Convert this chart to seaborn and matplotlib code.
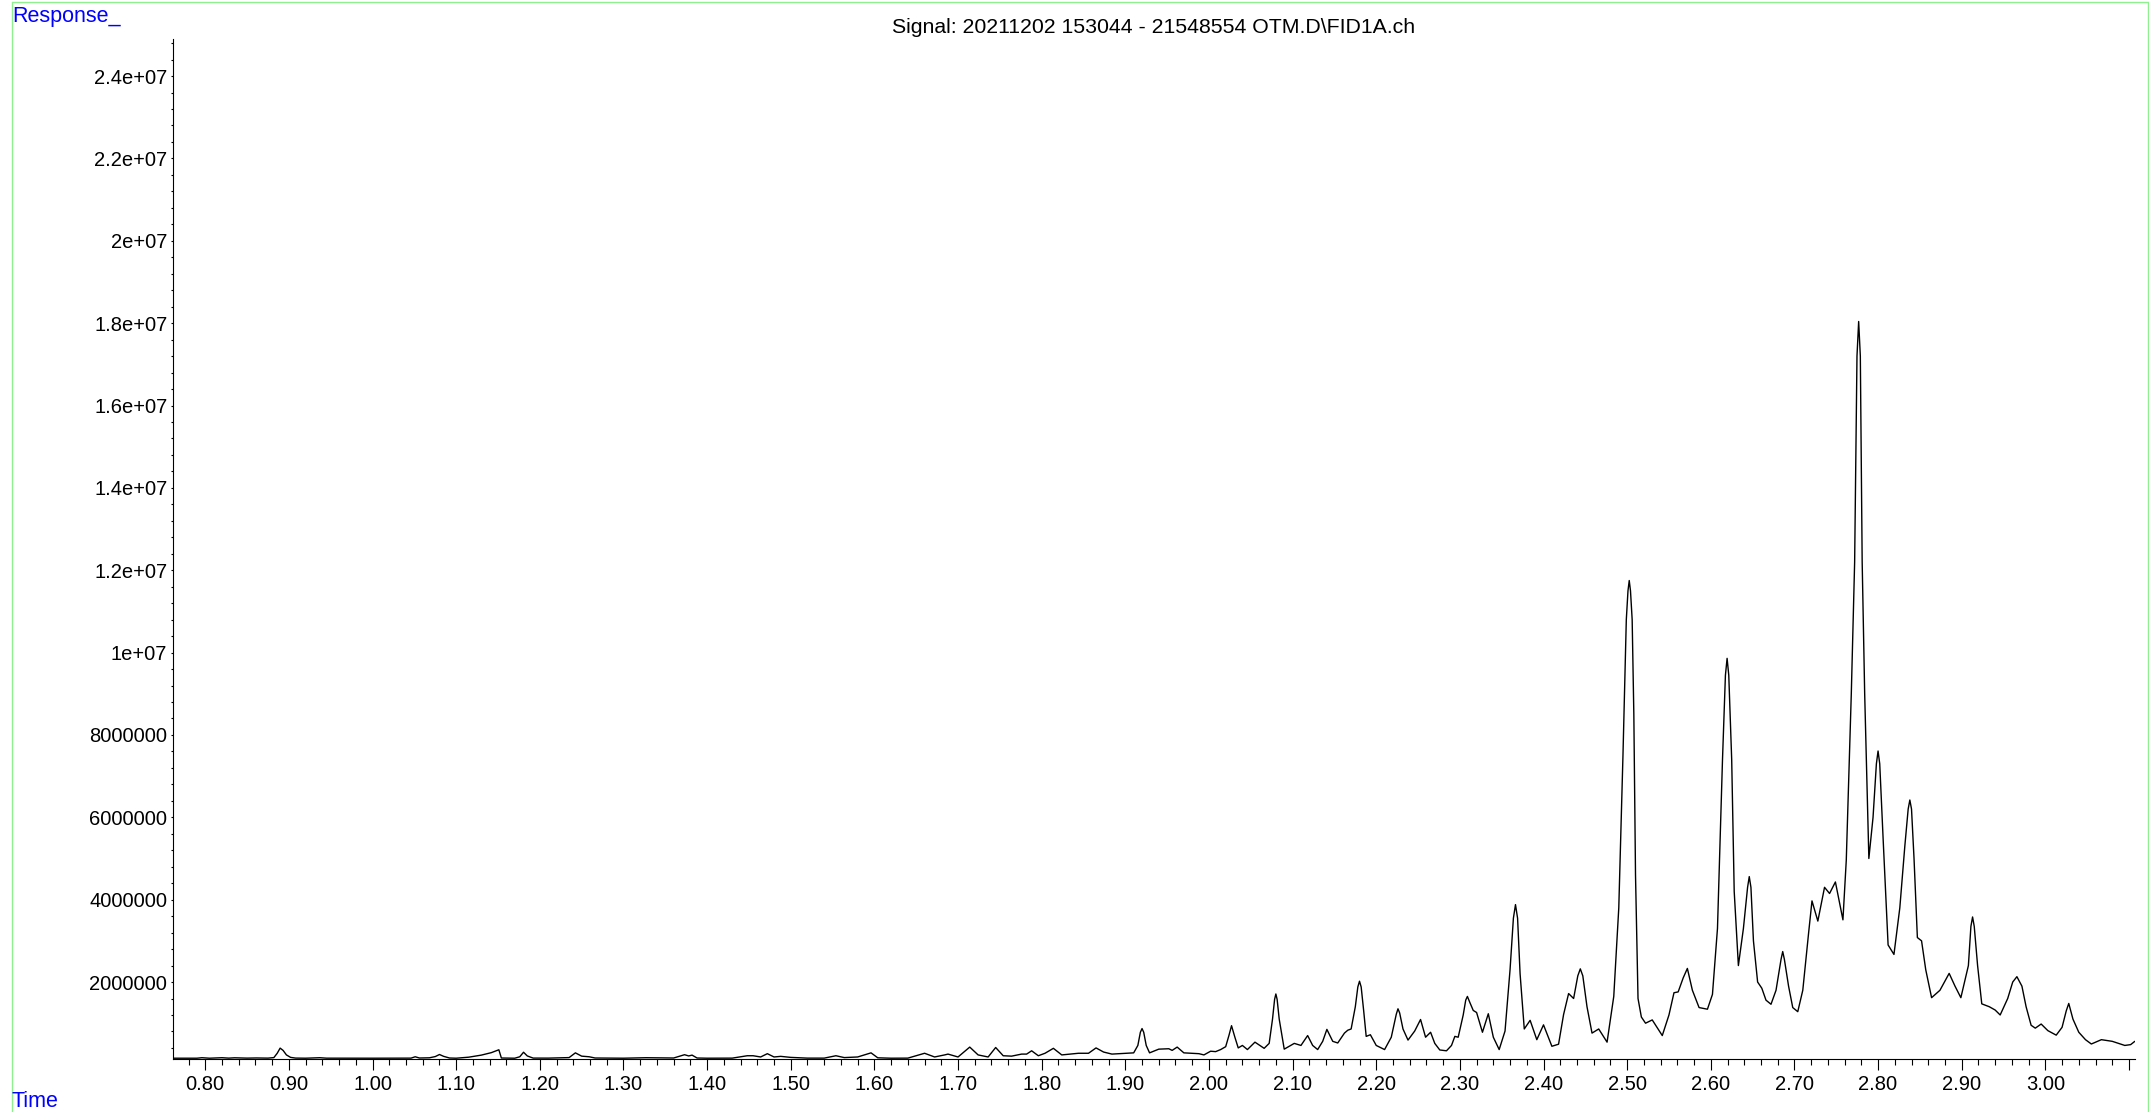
import matplotlib
matplotlib.use("Agg")
import matplotlib.pyplot as plt
import numpy as np
import pandas as pd
import seaborn as sns
from matplotlib.lines import Line2D
from matplotlib.ticker import MultipleLocator

# chromatogram trace, split by retention-time region
time_early = [0.762, 0.790, 0.796, 0.805, 0.820, 0.828, 0.835, 0.850, 0.861, 0.875,
              0.882, 0.886, 0.8895, 0.893, 0.897, 0.902, 0.908, 0.920, 0.937, 0.945,
              1.000, 1.046, 1.051, 1.056, 1.068, 1.075, 1.080, 1.085, 1.092, 1.100,
              1.115, 1.130, 1.142, 1.151, 1.154, 1.170, 1.176, 1.1805, 1.185, 1.192,
              1.210, 1.225, 1.235, 1.2425, 1.250, 1.259, 1.266, 1.300, 1.327, 1.360,
              1.373, 1.378, 1.382, 1.388, 1.400, 1.430]
resp_early = [1.50e5, 1.50e5, 1.62e5, 1.50e5, 1.62e5, 1.52e5, 1.60e5, 1.52e5, 1.56e5, 1.52e5,
              1.65e5, 2.70e5, 3.95e5, 3.40e5, 2.30e5, 1.70e5, 1.53e5, 1.50e5, 1.62e5, 1.51e5,
              1.50e5, 1.52e5, 1.85e5, 1.55e5, 1.60e5, 1.90e5, 2.40e5, 1.95e5, 1.55e5, 1.50e5,
              1.75e5, 2.25e5, 2.85e5, 3.55e5, 1.55e5, 1.50e5, 1.85e5, 2.95e5, 2.05e5, 1.53e5,
              1.52e5, 1.60e5, 1.65e5, 2.80e5, 2.00e5, 1.85e5, 1.55e5, 1.50e5, 1.62e5, 1.55e5,
              2.35e5, 2.05e5, 2.25e5, 1.55e5, 1.50e5, 1.52e5]

time_mid = [1.448, 1.455, 1.464, 1.472, 1.480, 1.488, 1.500, 1.520, 1.540, 1.554,
            1.564, 1.580, 1.596, 1.604, 1.620, 1.640, 1.660, 1.672, 1.684, 1.688,
            1.700, 1.714, 1.724, 1.736, 1.745, 1.754, 1.764, 1.776, 1.782, 1.788,
            1.796, 1.804, 1.814, 1.824, 1.844, 1.856, 1.865, 1.874, 1.884, 1.900,
            1.910, 1.915, 1.918, 1.920, 1.922, 1.925, 1.929, 1.940, 1.952, 1.956,
            1.962, 1.970, 1.988, 1.994, 2.002, 2.008, 2.014, 2.020, 2.024, 2.027,
            2.031, 2.035, 2.040, 2.046, 2.055, 2.066, 2.072, 2.076, 2.0785, 2.080,
            2.0815, 2.084, 2.090]
resp_mid = [2.10e5, 2.10e5, 1.80e5, 2.60e5, 1.80e5, 1.95e5, 1.70e5, 1.52e5, 1.52e5, 2.10e5,
            1.65e5, 1.80e5, 2.80e5, 1.60e5, 1.50e5, 1.52e5, 2.70e5, 1.80e5, 2.30e5, 2.50e5,
            1.80e5, 4.20e5, 2.30e5, 1.80e5, 4.10e5, 2.10e5, 2.00e5, 2.50e5, 2.50e5, 3.30e5,
            2.10e5, 2.70e5, 3.90e5, 2.30e5, 2.70e5, 2.70e5, 4.00e5, 3.00e5, 2.50e5, 2.70e5,
            2.80e5, 4.60e5, 7.80e5, 8.70e5, 7.80e5, 4.60e5, 2.80e5, 3.70e5, 3.80e5, 3.40e5,
            4.20e5, 2.80e5, 2.60e5, 2.30e5, 3.20e5, 3.10e5, 3.60e5, 4.30e5, 7.10e5, 9.40e5,
            6.60e5, 4.00e5, 4.60e5, 3.60e5, 5.40e5, 3.90e5, 5.10e5, 1.10e6, 1.58e6, 1.71e6,
            1.58e6, 1.10e6, 3.70e5]

time_rise = [2.102, 2.110, 2.118, 2.124, 2.130, 2.136, 2.141, 2.148, 2.154, 2.162,
             2.166, 2.170, 2.175, 2.178, 2.180, 2.182, 2.185, 2.188, 2.193, 2.200,
             2.210, 2.218, 2.224, 2.226, 2.228, 2.232, 2.238, 2.246, 2.253, 2.259,
             2.265, 2.270, 2.276, 2.284, 2.290, 2.294, 2.298, 2.304, 2.307, 2.309,
             2.312, 2.316, 2.320, 2.327, 2.334, 2.340, 2.347, 2.354, 2.360, 2.364,
             2.3665, 2.369, 2.372, 2.377, 2.384, 2.392, 2.400, 2.410, 2.418, 2.424,
             2.430, 2.436, 2.441, 2.444, 2.447, 2.452, 2.458, 2.466, 2.476, 2.484,
             2.490, 2.495, 2.499, 2.501, 2.5025, 2.504, 2.506, 2.508, 2.510, 2.513,
             2.517, 2.522, 2.530, 2.542, 2.550, 2.556, 2.561, 2.567, 2.572, 2.578,
             2.586, 2.596, 2.602]
resp_rise = [5.10e5, 4.60e5, 7.00e5, 4.60e5, 3.60e5, 5.60e5, 8.50e5, 5.60e5, 5.20e5, 7.60e5,
             8.30e5, 8.60e5, 1.40e6, 1.88e6, 2.02e6, 1.88e6, 1.30e6, 6.80e5, 7.20e5, 4.60e5,
             3.60e5, 6.60e5, 1.22e6, 1.35e6, 1.25e6, 8.60e5, 5.90e5, 8.10e5, 1.09e6, 6.60e5,
             7.80e5, 5.10e5, 3.50e5, 3.30e5, 4.60e5, 6.80e5, 6.60e5, 1.20e6, 1.56e6, 1.65e6,
             1.50e6, 1.31e6, 1.26e6, 7.80e5, 1.23e6, 6.60e5, 3.60e5, 8.10e5, 2.30e6, 3.55e6,
             3.88e6, 3.55e6, 2.20e6, 8.60e5, 1.07e6, 6.00e5, 9.60e5, 4.40e5, 4.90e5, 1.21e6,
             1.72e6, 1.60e6, 2.15e6, 2.32e6, 2.15e6, 1.40e6, 7.60e5, 8.60e5, 5.40e5, 1.65e6,
             3.80e6, 7.50e6, 1.08e7, 1.15e7, 1.175e7, 1.15e7, 1.08e7, 8.50e6, 4.60e6, 1.60e6,
             1.15e6, 1.00e6, 1.08e6, 7.00e5, 1.20e6, 1.74e6, 1.76e6, 2.10e6, 2.33e6, 1.80e6,
             1.38e6, 1.34e6, 1.70e6]

time_late = [2.608, 2.614, 2.6175, 2.6195, 2.6215, 2.625, 2.628, 2.633, 2.639, 2.644,
             2.646, 2.648, 2.651, 2.656, 2.661, 2.666, 2.672, 2.678, 2.684, 2.686,
             2.688, 2.693, 2.698, 2.704, 2.710, 2.717, 2.721, 2.728, 2.736, 2.742,
             2.749, 2.758, 2.762, 2.768, 2.772, 2.7748, 2.7768, 2.7788, 2.781, 2.784,
             2.789, 2.794, 2.798, 2.800, 2.802, 2.806, 2.812, 2.819, 2.826, 2.832,
             2.836, 2.838, 2.840, 2.843, 2.847, 2.852, 2.857, 2.864, 2.874, 2.885,
             2.892, 2.899, 2.908, 2.911, 2.913, 2.915, 2.919, 2.924, 2.933, 2.940,
             2.946, 2.955, 2.961, 2.966, 2.972, 2.977, 2.983, 2.988, 2.995, 3.003,
             3.013, 3.020, 3.025, 3.028, 3.033, 3.040, 3.048, 3.055, 3.067, 3.080,
             3.095, 3.102, 3.107]
resp_late = [3.30e6, 7.40e6, 9.45e6, 9.86e6, 9.45e6, 7.40e6, 4.20e6, 2.40e6, 3.30e6, 4.30e6,
             4.56e6, 4.30e6, 3.00e6, 2.00e6, 1.85e6, 1.56e6, 1.46e6, 1.80e6, 2.55e6, 2.74e6,
             2.55e6, 1.90e6, 1.38e6, 1.28e6, 1.80e6, 3.20e6, 3.97e6, 3.48e6, 4.30e6, 4.15e6,
             4.43e6, 3.51e6, 4.96e6, 9.00e6, 1.22e7, 1.72e7, 1.804e7, 1.72e7, 1.22e7, 9.00e6,
             5.00e6, 6.00e6, 7.30e6, 7.61e6, 7.30e6, 5.50e6, 2.90e6, 2.67e6, 3.80e6, 5.30e6,
             6.20e6, 6.42e6, 6.20e6, 5.00e6, 3.08e6, 3.00e6, 2.30e6, 1.62e6, 1.80e6, 2.21e6,
             1.90e6, 1.62e6, 2.40e6, 3.35e6, 3.58e6, 3.35e6, 2.40e6, 1.47e6, 1.40e6, 1.32e6,
             1.20e6, 1.60e6, 2.00e6, 2.13e6, 1.90e6, 1.40e6, 9.50e5, 8.80e5, 9.80e5, 8.20e5,
             7.10e5, 9.00e5, 1.30e6, 1.48e6, 1.10e6, 7.80e5, 6.00e5, 4.95e5, 6.00e5, 5.60e5,
             4.60e5, 4.80e5, 5.60e5]

x_ticks = [0.80, 0.90, 1.00, 1.10, 1.20, 1.30, 1.40, 1.50, 1.60, 1.70, 1.80, 1.90,
           2.00, 2.10, 2.20, 2.30, 2.40, 2.50, 2.60, 2.70, 2.80, 2.90, 3.00, 3.10]
x_tick_labels = ["0.80", "0.90", "1.00", "1.10", "1.20", "1.30", "1.40", "1.50",
                 "1.60", "1.70", "1.80", "1.90", "2.00", "2.10", "2.20", "2.30",
                 "2.40", "2.50", "2.60", "2.70", "2.80", "2.90", "3.00", ""]
y_ticks = [2e6, 4e6, 6e6, 8e6, 1e7, 1.2e7, 1.4e7, 1.6e7, 1.8e7, 2e7, 2.2e7, 2.4e7]
y_tick_labels = ["2000000", "4000000", "6000000", "8000000", "1e+07", "1.2e+07",
                 "1.4e+07", "1.6e+07", "1.8e+07", "2e+07", "2.2e+07", "2.4e+07"]

title = "Signal: 20211202 153044 - 21548554 OTM.D\\FID1A.ch"

df = pd.DataFrame({
    "time": np.concatenate([time_early, time_mid, time_rise, time_late]),
    "response": np.concatenate([resp_early, resp_mid, resp_rise, resp_late]),
})

sns.set_theme(style="ticks")
plt.rcParams["font.family"] = ["Liberation Sans", "DejaVu Sans"]
plt.rcParams["axes.linewidth"] = 0.8

W, H = 2149, 1112
fig = plt.figure(figsize=(W / 100, H / 100), dpi=100)
ax = fig.add_axes([173 / W, 1 - 1058.5 / H, (2135 - 173) / W, (1058.5 - 39) / H])

sns.lineplot(data=df, x="time", y="response", ax=ax, color="black",
             linewidth=1.0, estimator=None)

ax.set_xlim(0.7614, 3.1072)
ax.set_ylim(1.43e5, 2.49e7)
ax.set_xticks(x_ticks)
ax.set_xticklabels(x_tick_labels)
ax.xaxis.set_minor_locator(MultipleLocator(0.02))
ax.set_yticks(y_ticks)
ax.set_yticklabels(y_tick_labels)
ax.yaxis.set_minor_locator(MultipleLocator(4e5))
ax.tick_params(axis="x", which="major", length=7.9, width=0.8, pad=4.3,
               labelsize=14.5, colors="black")
ax.tick_params(axis="x", which="minor", length=4.3, width=0.8, colors="black")
ax.tick_params(axis="y", which="both", length=1.6, width=0.8, pad=2.5,
               labelsize=14.5, colors="black")
ax.set_xlabel("")
ax.set_ylabel("")
sns.despine(ax=ax)
for side in ("left", "bottom"):
    ax.spines[side].set_color("black")

fig.text(((173 + 2135) / 2) / W, 1 - 33 / H, title, ha="center", va="baseline",
         fontsize=15.3, color="black")
fig.text(12 / W, 1 - 22 / H, "Response_", ha="left", va="baseline",
         fontsize=15.5, color="#0000ff")
fig.text(12 / W, 1 - 1107 / H, "Time", ha="left", va="baseline",
         fontsize=15.5, color="#0000ff")

# light green frame round the plot window
green = "#8ef08e"
fig.add_artist(Line2D([11.5 / W, 11.5 / W], [0, 1 - 2 / H], color=green, lw=1))
fig.add_artist(Line2D([11.5 / W, 2147.5 / W], [1 - 2 / H, 1 - 2 / H], color=green, lw=1))
fig.add_artist(Line2D([2147.5 / W, 2147.5 / W], [0, 1 - 2 / H], color=green, lw=1))

fig.savefig("out.png", dpi=100)
plt.close(fig)
